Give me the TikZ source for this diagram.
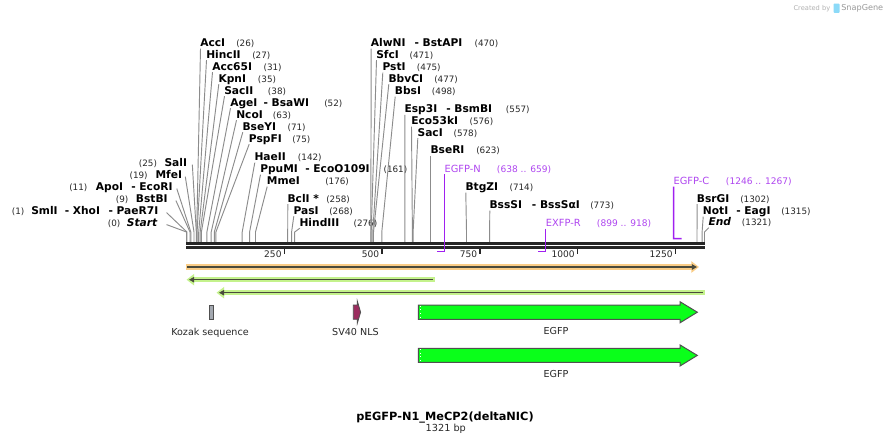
\documentclass[tikz,border=0pt]{standalone}
\usepackage{fontspec}
\setmainfont{DejaVu Sans}
\usetikzlibrary{arrows.meta,calc}
\definecolor{sline}{RGB}{140,140,140}
\definecolor{rulerc}{RGB}{38,38,38}
\definecolor{numc}{RGB}{40,40,40}
\definecolor{prim}{RGB}{160,32,240}
\definecolor{primtxt}{RGB}{175,70,240}
\definecolor{orangeband}{RGB}{250,205,135}
\definecolor{greenband}{RGB}{196,242,140}
\definecolor{darkline}{RGB}{74,74,60}
\definecolor{egfpc}{RGB}{10,255,26}
\definecolor{kozakc}{RGB}{163,168,176}
\definecolor{nlsc}{RGB}{155,45,95}
\definecolor{featborder}{RGB}{80,80,80}
\tikzset{
  nm/.style={inner sep=0pt, anchor=base west, font=\fontsize{8}{9}\selectfont\bfseries},
  nmi/.style={inner sep=0pt, anchor=base west, font=\fontsize{8}{9}\selectfont\bfseries\itshape},
  num/.style={inner sep=0pt, anchor=base west, text=numc, font=\fontsize{6.6}{8}\selectfont},
  pnm/.style={inner sep=0pt, anchor=base west, text=primtxt, font=\fontsize{7.4}{9}\selectfont},
  pnum/.style={inner sep=0pt, anchor=base west, text=primtxt, font=\fontsize{6.8}{8}\selectfont},
  sl/.style={draw=sline, line width=0.7pt},
  pline/.style={draw=prim, line width=1.1pt},
  tickl/.style={inner sep=0pt, anchor=base east, text=numc, font=\fontsize{6.8}{8}\selectfont},
  featl/.style={inner sep=0pt, anchor=base, text=numc, font=\fontsize{7.2}{9}\selectfont},
  feat/.style={draw=featborder, line width=0.75pt},
}
% right-hand label: id, name x, centre y, name, number x, number
\newcommand\rsite[6]{%
  \node[nm] (#1) at (#2,#3+3.9) {#4};
  \node[num] (#1-n) at (#5,#3+3.9) {#6};}
% line from a right-hand label down to its site
\newcommand\rline[2]{%
  \coordinate (#1-s) at (#2,241.8);
  \draw[sl] ($(#1.base west)+(0.5,2)$) -- (#2,232) -- (#1-s);}
% line from a left-hand label (gap) down to its site
\newcommand\lline[3]{%
  \coordinate (#1-s) at (#2,241.8);
  \draw[sl] ($(#1.base east)+(#3,-2)$) -- (#2,232) -- (#1-s);}
\begin{document}
\begin{tikzpicture}[x=0.75pt,y=-0.75pt]
\path[use as bounding box, fill=white] (0,0) rectangle (891,444);

% ---------- Created by SnapGene ----------
\node[inner sep=0pt, anchor=base west, text=black!30, font=\fontsize{5}{6}\selectfont] (cby) at (793.3,10.2) {Created by};
\fill[cyan!45!white, rounded corners=0.6pt] (833.5,3.5) rectangle (839.5,12.8);
\node[inner sep=0pt, anchor=base west, text=black!40, font=\fontsize{6.1}{7}\selectfont] (sg) at (841,10.8) {SnapGene};

% ---------- left-hand labels ----------
\node[num] (sali-n) at (138.7,166.6) {(25)};
\node[nm] (sali) at (164.3,166.6) {SalI};
\node[num] (mfei-n) at (129.3,178.6) {(19)};
\node[nm] (mfei) at (155.3,178.6) {MfeI};
\node[num] (apoi-n) at (69,190.6) {(11)};
\node[nm] (apoi) at (95.7,190.6) {ApoI};
\node[nm] (ecori) at (131,190.6) {- EcoRI};
\node[num] (bstbi-n) at (115.7,202.6) {(9)};
\node[nm] (bstbi) at (135.7,202.6) {BstBI};
\node[num] (smli-n) at (11.7,214.6) {(1)};
\node[nm] (smli) at (31,214.6) {SmlI};
\node[nm] (xhoi) at (64.5,214.6) {- XhoI};
\node[nm] (paer) at (108.3,214.6) {- PaeR7I};
\node[num] (start-n) at (107.7,226.6) {(0)};
\node[nmi] (start) at (126.7,226.6) {Start};
\lline{sali}{196.3}{5}
\lline{mfei}{194.0}{3}
\lline{ecori}{190.8}{4}
\lline{bstbi}{190.0}{8}
\lline{paer}{186.9}{8}
\lline{start}{186.5}{9}

% ---------- right-hand labels, first group ----------
\rsite{acci}{200}{42.7}{AccI}{236}{(26)}
\rsite{hincii}{206}{54.3}{HincII}{252}{(27)}
\rsite{accsfi}{212}{66.3}{Acc65I}{263.3}{(31)}
\rsite{kpni}{218.3}{78.3}{KpnI}{257.7}{(35)}
\rsite{sacii}{224}{90.3}{SacII}{267.7}{(38)}
\rsite{agei}{230}{102.3}{AgeI}{324}{(52)}
\node[nm] (bsawi) at (263.3,106.2) {- BsaWI};
\rsite{ncoi}{236}{114.3}{NcoI}{272.7}{(63)}
\rsite{bseyi}{242.3}{126.3}{BseYI}{287.3}{(71)}
\rsite{pspfi}{248.7}{138.3}{PspFI}{292}{(75)}
\rsite{haeii}{254.3}{156.7}{HaeII}{297.7}{(142)}
\rsite{ppumi}{260}{168.7}{PpuMI}{383.3}{(161)}
\node[nm] (ecoo) at (305,172.6) {- EcoO109I};
\rsite{mmei}{266.7}{180.7}{MmeI}{325}{(176)}
\rsite{bcli}{287.3}{198.3}{BclI *}{326}{(258)}
\rsite{pasi}{293.3}{210.3}{PasI}{329}{(268)}
\rsite{hindiii}{299.3}{222.3}{HindIII}{353.3}{(276)}
\rline{acci}{196.7}
\rline{hincii}{197.1}
\rline{accsfi}{198.7}
\rline{kpni}{200.2}
\rline{sacii}{201.4}
\rline{agei}{206.9}
\rline{ncoi}{211.2}
\rline{bseyi}{214.3}
\rline{pspfi}{215.9}
\rline{haeii}{242.2}
\rline{ppumi}{249.6}
\rline{mmei}{255.5}
\rline{bcli}{287.7}
\rline{pasi}{291.6}
\rline{hindiii}{294.7}

% ---------- middle group ----------
\rsite{alwni}{370.7}{42.7}{AlwNI}{474.3}{(470)}
\node[nm] (bstapi) at (414.3,46.6) {- BstAPI};
\rsite{sfci}{376}{54.3}{SfcI}{409.3}{(471)}
\rsite{psti}{382.3}{66.7}{PstI}{416.7}{(475)}
\rsite{bbvci}{388.3}{78.3}{BbvCI}{434}{(477)}
\rsite{bbsi}{394.7}{90.7}{BbsI}{431.7}{(498)}
\rsite{espi}{404.3}{109}{Esp3I}{505.7}{(557)}
\node[nm] (bsmbi) at (446,112.9) {- BsmBI};
\rsite{ecoki}{411}{120.7}{Eco53kI}{469.3}{(576)}
\rsite{saci}{417.3}{132.3}{SacI}{453.3}{(578)}
\rsite{bseri}{430.3}{150}{BseRI}{476}{(623)}
\rsite{btgzi}{465.3}{186.7}{BtgZI}{509.3}{(714)}
\rsite{bsssi}{489.3}{204.7}{BssSI}{590}{(773)}
\node[nm] (bsssai) at (531.7,208.6) {- BssSαI};
\rline{alwni}{370.8}
\rline{sfci}{371.2}
\rline{psti}{372.8}
\rline{bbvci}{373.5}
\rline{bbsi}{381.8}
\rline{espi}{404.9}
\rline{ecoki}{412.4}
\rline{saci}{413.1}
\rline{bseri}{430.8}
\rline{btgzi}{466.5}
\rline{bsssi}{489.6}

% ---------- right end ----------
\rsite{bsrgi}{696.7}{198.3}{BsrGI}{740}{(1302)}
\rsite{noti}{702.7}{210.7}{NotI}{781}{(1315)}
\node[nm] (eagi) at (736,214.6) {- EagI};
\node[nmi] (endl) at (708.3,225.6) {End};
\node[num] (endl-n) at (741.7,225.6) {(1321)};
\rline{bsrgi}{697.0}
\rline{noti}{702.1}
\rline{endl}{704.5}

% ---------- ruler ----------
\coordinate (r0) at (186,243.3);
\coordinate (r1) at (705,243.3);
\coordinate (q0) at (186,247.4);
\coordinate (q1) at (705,247.4);
\draw[rulerc, line width=2.1pt] (r0) -- (r1);
\draw[rulerc, line width=1.8pt] (q0) -- (q1);
\foreach \xx/\lab in {284.3/250, 382/500, 480/750, 577.5/1000, 675.5/1250}{
  \draw[rulerc, line width=1.1pt] (\xx,248.5) -- (\xx,254.2);
  \node[tickl] at (\xx-2.5,257.8) {\lab};
}

% ---------- primers ----------
\node[pnm] (egfpn) at (444.3,172.2) {EGFP-N};
\node[pnum] (egfpn-n) at (496.7,172.2) {(638 .. 659)};
\coordinate (egfpn-e) at (436.5,251.5);
\draw[pline] ($(egfpn.base west)+(0,2)$) -- (444.3,251.5) -- (egfpn-e);
\node[pnm] (exfpr) at (545.7,226.6) {EXFP-R};
\node[pnum] (exfpr-n) at (596.7,226.6) {(899 .. 918)};
\coordinate (exfpr-e) at (538.3,251.5);
\draw[pline] ($(exfpr.base west)+(0,2)$) -- (545.7,251.5) -- (exfpr-e);
\node[pnm] (egfpc) at (673.3,184.6) {EGFP-C};
\node[pnum] (egfpc-n) at (725.7,184.6) {(1246 .. 1267)};
\coordinate (egfpc-e) at (681.7,238.7);
\draw[pline] ($(egfpc.base west)+(0.3,2)$) -- (673.6,238.7) -- (egfpc-e);

% ---------- feature bars ----------
\draw[orangeband, line width=4pt, -{Triangle[length=5.7pt,width=8.3pt]}] (186,267) -- (699,267);
\draw[darkline, line width=1.1pt, -{Triangle[length=3.8pt,width=4pt]}] (187,267) -- (697,267);
\draw[greenband, line width=4pt, -{Triangle[length=5.7pt,width=8.3pt]}] (434.5,279.7) -- (186.5,279.7);
\draw[darkline, line width=1.1pt, -{Triangle[length=3.8pt,width=4pt]}] (432.5,279.7) -- (189,279.7);
\draw[greenband, line width=4pt, -{Triangle[length=5.7pt,width=8.3pt]}] (704.8,292.7) -- (216.5,292.7);
\draw[darkline, line width=1.1pt, -{Triangle[length=3.8pt,width=4pt]}] (702.8,292.7) -- (219,292.7);

% ---------- features ----------
\draw[feat, fill=kozakc] (209.3,305) rectangle (213.3,319.3);
\node[featl] (kozak) at (210,335) {Kozak sequence};

\draw[feat, line width=0.6pt, fill=nlsc] (353.3,305) -- (357.3,305) -- (357.3,301) -- (360.6,312.2) -- (357.3,323.3) -- (357.3,319.3) -- (353.3,319.3) -- cycle;
\node[featl] (nls) at (355.5,335) {SV40 NLS};

\draw[feat, fill=egfpc] (418.3,305) -- (680,305) -- (680,301.7) -- (697.3,312.2) -- (680,322.8) -- (680,319.3) -- (418.3,319.3) -- cycle;
\draw[white, line width=0.8pt, dotted] (420.6,305.6) -- (420.6,318.8);
\node[featl] (egfp1) at (556,334.6) {EGFP};

\draw[feat, fill=egfpc] (418.3,348.3) -- (680,348.3) -- (680,344.9) -- (697.3,355.4) -- (680,366) -- (680,362.4) -- (418.3,362.4) -- cycle;
\draw[white, line width=0.8pt, dotted] (420.6,348.9) -- (420.6,361.8);
\node[featl] (egfp2) at (556,377.3) {EGFP};

% ---------- title ----------
\node[inner sep=0pt, anchor=base, font=\fontsize{8.5}{10}\selectfont\bfseries] (title) at (445,420) {pEGFP-N1\_MeCP2(deltaNIC)};
\node[inner sep=0pt, anchor=base, text=numc, font=\fontsize{7.3}{9}\selectfont] (bp) at (445.8,431.5) {1321 bp};
\end{tikzpicture}
\end{document}
